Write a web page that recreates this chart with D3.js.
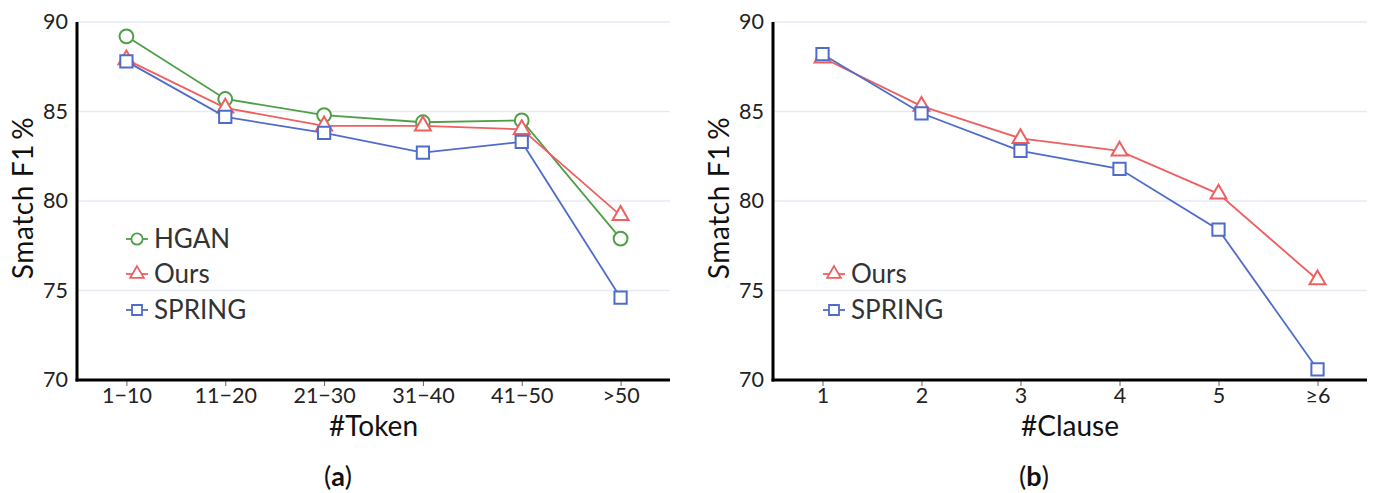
<!DOCTYPE html>
<meta charset="utf-8">
<style>
body { margin: 0; background: #fff; }
text { font-family: "Lato", sans-serif; }
.tick text { font-size: 21.5px; fill: #222; }
.grid line { stroke: #e6eaf4; stroke-width: 1.5px; }
.title { font-size: 28px; fill: #111; }
.legend text { font-size: 26px; fill: #333; }
</style>
<body>
<div id="fig"></div>
<script src="https://cdn.jsdelivr.net/npm/d3@7"></script>
<script>
// values
var tokenBins = ["1\u221210", "11\u221220", "21\u221230", "31\u221240", "41\u221250", ">50"];
var hganToken = [89.2, 85.7, 84.8, 84.4, 84.5, 77.9];
var oursToken = [87.9, 85.2, 84.2, 84.2, 84.0, 79.2];
var springToken = [87.8, 84.7, 83.8, 82.7, 83.3, 74.6];

var clauseBins = ["1", "2", "3", "4", "5", "\u22656"];
var oursClause = [88.0, 85.3, 83.5, 82.8, 80.4, 75.6];
var springClause = [88.2, 84.9, 82.8, 81.8, 78.4, 70.6];

var yTicks = [70, 75, 80, 85, 90];

var colors = {HGAN: "#4f9f48", Ours: "#ef5f60", SPRING: "#4f6ccb"};
var shapes = {HGAN: d3.symbolCircle, Ours: d3.symbolTriangle, SPRING: d3.symbolSquare};

var svg = d3.select("#fig").append("svg")
    .attr("width", 1376)
    .attr("height", 493);

function panel(opt) {
  var g = svg.append("g");
  var x = d3.scalePoint().domain(opt.cats).range([opt.left, opt.right]).padding(0.5);
  var y = d3.scaleLinear().domain([70, 90]).range([380, 22]);

  // gridlines
  g.append("g").attr("class", "grid")
    .selectAll("line")
    .data(yTicks.slice(1))
    .enter().append("line")
    .attr("x1", opt.left).attr("x2", opt.right)
    .attr("y1", y).attr("y2", y);

  var yAxis = g.append("g")
    .attr("transform", "translate(" + opt.left + ",0)")
    .call(d3.axisLeft(y).tickValues(yTicks).tickSize(0).tickPadding(9));
  yAxis.select(".domain").remove();

  var xAxis = g.append("g")
    .attr("transform", "translate(0,380)")
    .call(d3.axisBottom(x).tickSize(6).tickPadding(2));
  xAxis.select(".domain").remove();
  xAxis.selectAll(".tick line").attr("stroke", "#666");

  // axes frame
  g.append("line").attr("x1", opt.left).attr("x2", opt.left)
    .attr("y1", 22).attr("y2", 381.5).attr("stroke", "#000").attr("stroke-width", 3);
  g.append("line").attr("x1", opt.left - 1.5).attr("x2", opt.right)
    .attr("y1", 380).attr("y2", 380).attr("stroke", "#000").attr("stroke-width", 3);

  var line = d3.line()
    .x(function (d, i) { return x(opt.cats[i]); })
    .y(function (d) { return y(d); });

  opt.series.forEach(function (s) {
    g.append("path")
      .datum(s.values)
      .attr("fill", "none")
      .attr("stroke", colors[s.name])
      .attr("stroke-width", 1.8)
      .attr("d", line);
    g.selectAll(null)
      .data(s.values)
      .enter().append("path")
      .attr("transform", function (d, i) { return "translate(" + x(opt.cats[i]) + "," + y(d) + ")"; })
      .attr("d", d3.symbol().type(shapes[s.name]).size(s.name == "Ours" ? 110 : 150))
      .attr("fill", "#fff")
      .attr("stroke", colors[s.name])
      .attr("stroke-width", 2);
  });

  // legend
  var leg = g.append("g").attr("class", "legend");
  opt.legend.forEach(function (name, i) {
    var row = leg.append("g")
      .attr("transform", "translate(" + opt.legX + "," + opt.legY[i] + ")");
    row.append("line").attr("x1", -11).attr("x2", 11)
      .attr("stroke", colors[name]).attr("stroke-width", 1.8);
    row.append("path")
      .attr("d", d3.symbol().type(shapes[name]).size(name == "Ours" ? 80 : 100))
      .attr("fill", "#fff").attr("stroke", colors[name]).attr("stroke-width", 1.8);
    row.append("text").attr("x", 17).attr("dy", "0.36em").text(name);
  });

  g.append("text").attr("class", "title")
    .attr("transform", "translate(" + opt.yTitleX + ",198) rotate(-90)")
    .attr("text-anchor", "middle")
    .style("letter-spacing", "0.6px")
    .text("Smatch F1\u2009%");

  g.append("text").attr("class", "title")
    .attr("x", (opt.left + opt.right) / 2).attr("y", 436)
    .attr("text-anchor", "middle")
    .text(opt.xTitle);

  var cap = g.append("text")
    .attr("x", opt.capX).attr("y", 486)
    .attr("text-anchor", "middle")
    .style("font-size", "27px").style("fill", "#111");
  cap.append("tspan").text("(");
  cap.append("tspan").style("font-weight", "bold").text(opt.cap);
  cap.append("tspan").text(")");
}

panel({
  cats: tokenBins, left: 77, right: 670,
  series: [
    {name: "HGAN", values: hganToken},
    {name: "Ours", values: oursToken},
    {name: "SPRING", values: springToken}
  ],
  legend: ["HGAN", "Ours", "SPRING"], legX: 137, legY: [239, 274, 310],
  yTitleX: 33, xTitle: "#Token", cap: "a", capX: 338
});

panel({
  cats: clauseBins, left: 773, right: 1367,
  series: [
    {name: "Ours", values: oursClause},
    {name: "SPRING", values: springClause}
  ],
  legend: ["Ours", "SPRING"], legX: 834, legY: [274, 310],
  yTitleX: 729, xTitle: "#Clause", cap: "b", capX: 1034
});
</script>
